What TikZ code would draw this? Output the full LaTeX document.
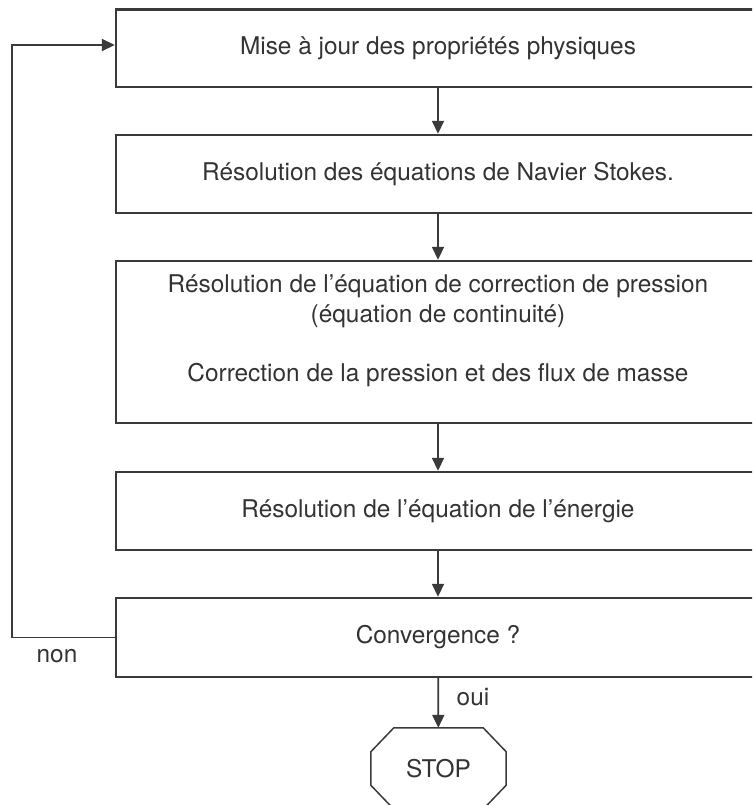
\documentclass[tikz,border=0pt]{standalone}
\usepackage{fontspec}
\setmainfont{TeX Gyre Heros}
\usetikzlibrary{arrows.meta,calc}
\definecolor{ink}{HTML}{3A3A3A}
\definecolor{txt}{HTML}{333333}
\begin{document}
\begin{tikzpicture}[x=1pt,y=-1pt,
  stepbox/.style={draw=ink,line width=2.4pt,minimum width=644pt,inner sep=0pt,text=txt,align=center,
    font=\fontsize{24.4}{30}\selectfont},
  conn/.style={draw=ink,line width=1.8pt,-{Triangle[length=13pt,width=12pt]}},
  lbl/.style={text=txt,font=\fontsize{24.4}{28}\selectfont,inner sep=0pt}]
\useasboundingbox (0,0) rectangle (752,805);
\clip (0,0) rectangle (752,805);
\node[stepbox,minimum height=77.5pt] (b1) at (438,48.3) {Mise à jour des propriétés physiques};
\node[stepbox,minimum height=78pt] (b2) at (438,174) {Résolution des équations de Navier Stokes.};
\node[stepbox,minimum height=162pt] (b3) at (438,342) {};
\node[lbl,align=center,font=\fontsize{24.4}{30.5}\selectfont] (b3t) at (438,330.5) {Résolution de l’équation de correction de pression\\(équation de continuité)\\[28pt]Correction de la pression et des flux de masse};
\node[stepbox,minimum height=78pt] (b4) at (438,511) {Résolution de l’équation de l’énergie};
\node[stepbox,minimum height=79pt] (b5) at (438,637.5) {Convergence ?};
\node[lbl,minimum width=135pt,minimum height=81pt] (stop) at (438.5,768.5) {STOP};
\draw[ink,line width=1.5pt] ($(stop.north west)+(23,0)$) -- ($(stop.north east)+(-23,0)$)
  -- ($(stop.north east)+(0,24)$) -- ($(stop.south east)+(0,-24)$) -- ($(stop.south east)+(-23,0)$)
  -- ($(stop.south west)+(23,0)$) -- ($(stop.south west)+(0,-24)$) -- ($(stop.north west)+(0,24)$) -- cycle;
\draw[conn] (b1) -- (b2);
\draw[conn] (b2) -- (b3);
\draw[conn] (b3) -- (b4);
\draw[conn] (b4) -- (b5);
\draw[conn] (b5) -- (stop);
\coordinate (lb) at (12,637.5);
\coordinate (lt) at (12,45);
\draw[conn] (b5.west) -- (lb) -- (lt) -- ([yshift=3.3pt]b1.west);
\node[lbl] (non) at (57,656) {non};
\node[lbl] (oui) at (473,697) {oui};
\end{tikzpicture}
\end{document}
